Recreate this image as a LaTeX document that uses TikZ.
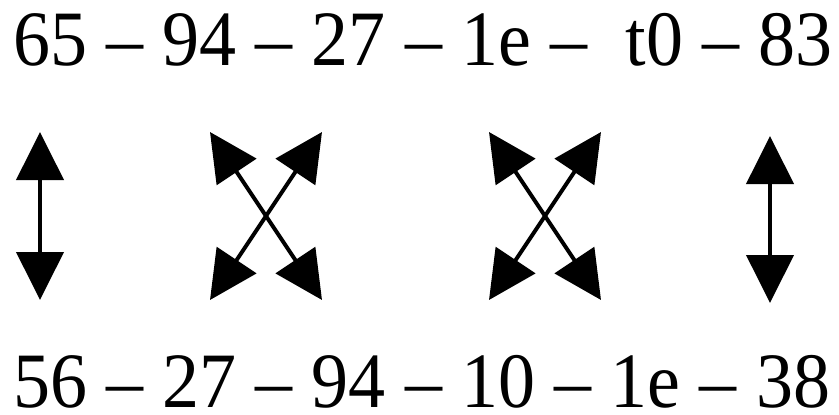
\documentclass[tikz,border=0pt]{standalone}
\usepackage{fontspec}
\usepackage{graphicx}
\usepackage{tikz}
\usetikzlibrary{arrows.meta,positioning}
\setmainfont{Liberation Serif}
\newcommand{\tallrow}[1]{\scalebox{1}[1.06]{\spaceskip 19.2pt\relax #1}}
\tikzset{
 keyrow/.style={
 inner sep=0pt,
 anchor=base west,
 font={\fontsize{74}{80}\selectfont}
 },
 swaparrow/.style={
 {Triangle[length=48pt,width=47pt]}-{Triangle[length=48pt,width=47pt]},
 line width=4pt
 }
}

\begin{document}
\begin{tikzpicture}[x=1pt,y=-1pt]
	\useasboundingbox (0,0) rectangle (839,415);
	\node[keyrow] (upper) at (13,65) {\tallrow{65 -- 94 -- 27 -- 1e -- ~t0 -- 83}};
	\node[keyrow] (lower) at (13,407) {\tallrow{56 -- 27 -- 94 -- 10 -- 1e -- 38}};

	\coordinate (leftTop) at (40,132);
	\coordinate (leftBot) at (40,300);
	\coordinate (crossAtl) at (210,132);
	\coordinate (crossAtr) at (322,132);
	\coordinate (crossAbl) at (210,300);
	\coordinate (crossAbr) at (322,300);
	\coordinate (crossBtl) at (489,132);
	\coordinate (crossBtr) at (601,132);
	\coordinate (crossBbl) at (489,300);
	\coordinate (crossBbr) at (601,300);
	\coordinate (rightTop) at (770,136);
	\coordinate (rightBot) at (770,303);

	\draw[swaparrow] (leftTop) -- (leftBot);
	\draw[swaparrow] (crossAtl) -- (crossAbr);
	\draw[swaparrow] (crossAtr) -- (crossAbl);
	\draw[swaparrow] (crossBtl) -- (crossBbr);
	\draw[swaparrow] (crossBtr) -- (crossBbl);
	\draw[swaparrow] (rightTop) -- (rightBot);
\end{tikzpicture}
\end{document}
